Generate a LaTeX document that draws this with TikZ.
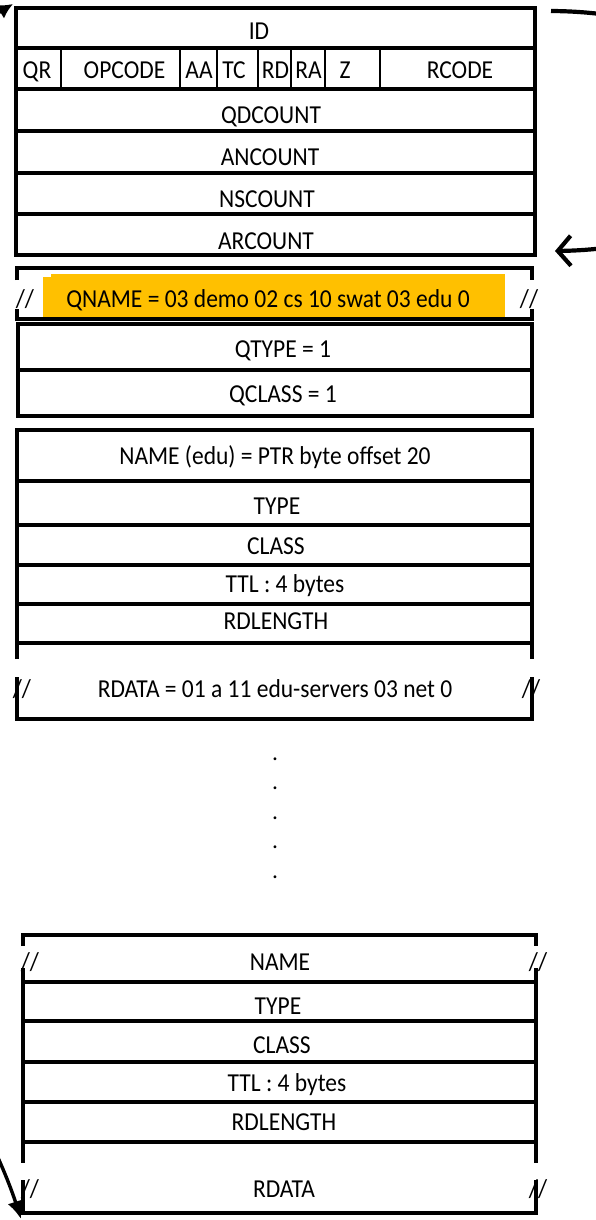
\documentclass[tikz,border=0pt]{standalone}
\usepackage{fontspec}
\setmainfont{Carlito}
\usetikzlibrary{arrows.meta}
\definecolor{qorange}{RGB}{255,192,0}
\newcommand{\stx}[1]{\scalebox{1}[1.1]{#1}}
\begin{document}
\begin{tikzpicture}[x=1pt,y=-1pt,
  box/.style={line width=3.3pt},
  thinline/.style={line width=2.6pt},
  lbl/.style={font=\fontsize{23.5}{28}\selectfont, inner sep=0pt, anchor=base},
  dotlbl/.style={font=\fontsize{23.5}{28}\selectfont, inner sep=0pt, anchor=base},
  loopline/.style={line width=4.2pt}
]
\useasboundingbox (0,0) rectangle (596,1220);
\clip (0,0) rectangle (596,1220);

% ---------- header ----------
\draw[box] (16,8) rectangle (535,255);
\foreach \y in {48,89,131,173,214} \draw[box] (16,\y) -- (535,\y);
\foreach \x in {61,180,217,258,291,325,380} \draw[thinline] (\x,48) -- (\x,89);
\node[lbl] (id) at (259,40) {\stx{ID}};
\node[lbl] (qr) at (37,78.5) {\stx{QR}};
\node[lbl] (opcode) at (124.5,78.5) {\stx{OPCODE}};
\node[lbl] (aa) at (199,78.5) {\stx{AA}};
\node[lbl] (tc) at (234,78.5) {\stx{TC}};
\node[lbl] (rd) at (275.5,78.5) {\stx{RD}};
\node[lbl] (ra) at (308.5,78.5) {\stx{RA}};
\node[lbl] (z) at (345,78.5) {\stx{Z}};
\node[lbl] (rcode) at (460,78.5) {\stx{RCODE}};
\node[lbl] (qd) at (271,124) {\stx{QDCOUNT}};
\node[lbl] (an) at (270,165) {\stx{ANCOUNT}};
\node[lbl] (ns) at (267,207) {\stx{NSCOUNT}};
\node[lbl] (ar) at (266,249) {\stx{ARCOUNT}};

% ---------- question ----------
\fill[qorange] (51,274) rectangle (505,318);
\fill[qorange] (43,277) rectangle (51,318);
\draw[box] (17,280) -- (17,268) -- (532,268) -- (532,280);
\draw[box] (17,309) -- (17,319) -- (532,319) -- (532,309);
\node[lbl] (qs1) at (25,307) {\stx{//}};
\node[lbl] (qs2) at (529,307) {\stx{//}};
\node[lbl] (qname) at (268,307) {\stx{QNAME = 03 demo 02 cs 10 swat 03 edu 0}};
\draw[box] (18,324) rectangle (532,416);
\draw[box] (18,370) -- (532,370);
\node[lbl] (qtype) at (283,357) {\stx{QTYPE = 1}};
\node[lbl] (qclass) at (283,402) {\stx{QCLASS = 1}};

% ---------- answer RR ----------
\draw[box] (17,659) -- (17,430) -- (532,430) -- (532,659);
\foreach \y in {481,525,565,604,643} \draw[box] (17,\y) -- (532,\y);
\draw[box] (17,677) -- (17,719) -- (532,719) -- (532,677);
\node[lbl] (aname) at (275,464) {\stx{NAME (edu) = PTR byte offset 20}};
\node[lbl] (atype) at (277,514) {\stx{TYPE}};
\node[lbl] (aclass) at (276,554) {\stx{CLASS}};
\node[lbl] (attl) at (285,592) {\stx{TTL : 4 bytes}};
\node[lbl] (ardl) at (276,629) {\stx{RDLENGTH}};
\node[lbl] (as1) at (22,697) {\stx{//}};
\node[lbl] (as2) at (531,697) {\stx{//}};
\node[lbl] (ardata) at (275,697) {\stx{RDATA = 01 a 11 edu-servers 03 net 0}};

% ---------- dots ----------
\foreach \y/\n in {760/d1,789/d2,819/d3,848/d4,878/d5} \node[dotlbl] (\n) at (275,\y) {.};

% ---------- last RR ----------
\draw[box] (23,946) -- (23,935) -- (536,935) -- (536,946);
\draw[box] (23,968) -- (23,1163);
\draw[box] (536,968) -- (536,1163);
\foreach \y in {982,1021,1062,1102,1142} \draw[box] (23,\y) -- (536,\y);
\draw[box] (23,1180) -- (23,1213) -- (536,1213) -- (536,1180);
\node[lbl] (ls1) at (30,970) {\stx{//}};
\node[lbl] (ls2) at (538,970) {\stx{//}};
\node[lbl] (lname) at (280,970) {\stx{NAME}};
\node[lbl] (ltype) at (278,1014) {\stx{TYPE}};
\node[lbl] (lclass) at (282,1053) {\stx{CLASS}};
\node[lbl] (lttl) at (287,1091) {\stx{TTL : 4 bytes}};
\node[lbl] (lrdl) at (284,1130) {\stx{RDLENGTH}};
\node[lbl] (ls3) at (30,1197) {\stx{//}};
\node[lbl] (ls4) at (538,1197) {\stx{//}};
\node[lbl] (lrdata) at (284,1197) {\stx{RDATA}};

% ---------- arrows ----------
\coordinate (rs) at (551,11);
\coordinate (re) at (555,251);
\draw[loopline, -{Straight Barb[length=13pt,width=30pt]}] (rs) .. controls (830,13) and (830,247) .. (re);
\coordinate (lt) at (13,4);
\coordinate (lm) at (-22,1115);
\coordinate (lb) at (21,1219);
\draw[line width=3.4pt, {Latex[length=15pt,width=16pt]}-{Latex[length=18pt,width=16pt]}]
  (lt) .. controls (-200,130) and (-70,1030) .. (lm)
       .. controls (0,1160) and (10,1185) .. (lb);
\end{tikzpicture}
\end{document}
